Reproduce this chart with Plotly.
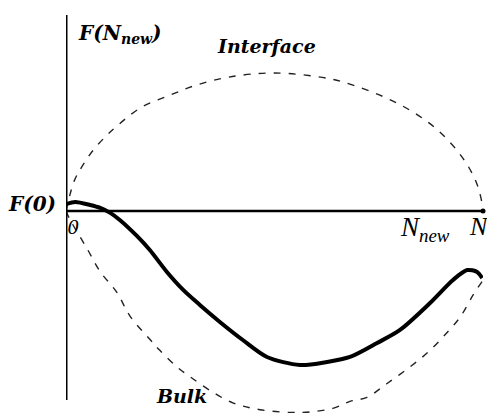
import plotly.graph_objects as go

# curvas (x: 0..N=100, y: F relativo a F(0))
interface_x = [0, 2, 4, 6.5, 9.5, 12, 18, 25, 31, 39, 50, 63, 69, 76, 82.5, 89, 95, 98.5, 100]
interface_y = [0, 22, 33, 44, 54, 61, 75, 84, 91, 97, 100, 96, 91, 83, 73, 59, 39, 20, 2]

bulk_x = [0, 1, 5, 8.2, 12.2, 15.3, 20.1, 22.5, 26.6, 29.7, 34.5, 40, 46.5, 56.1,
          64, 68.1, 72.2, 77, 82.5, 87.3, 91.4, 94.5, 97.6, 99.8]
bulk_y = [0, -6.5, -27, -44, -59, -76, -93, -101, -113, -120, -130, -139, -144, -146,
          -143, -138, -135, -125, -113, -101, -88, -77, -61, -51]

fnew_x = [0.2, 2.2, 5.8, 8.2, 10.6, 12.9, 17, 20.1, 24.2, 28.1, 32.1, 36.9, 42.4,
          48.2, 56.1, 62.6, 68.1, 74.6, 80.1, 87.3, 92.8, 96.2, 98.6, 99.8]
fnew_y = [5.1, 6.5, 4.3, 2.2, -1.4, -6.5, -18.1, -28.3, -44.2, -57.2, -68.1, -80.4,
          -93.5, -105.8, -111.6, -109.4, -105.8, -95.7, -86.2, -66.7, -50, -42.8,
          -44.2, -48.6]

fig = go.Figure()

dash = dict(color='#222', width=1.4, dash='7px,8px', shape='spline')
fig.add_trace(go.Scatter(x=interface_x, y=interface_y, mode='lines', line=dash))
fig.add_trace(go.Scatter(x=bulk_x, y=bulk_y, mode='lines', line=dash))
fig.add_trace(go.Scatter(x=fnew_x, y=fnew_y, mode='lines',
                         line=dict(color='black', width=4, shape='spline', smoothing=0.8)))
# punto al final del eje
fig.add_trace(go.Scatter(x=[100], y=[0], mode='markers',
                         marker=dict(color='black', size=5), cliponaxis=False))

# ejes
fig.add_shape(type='line', x0=0, x1=0, y0=142, y1=-137,
              line=dict(color='black', width=3))
fig.add_shape(type='line', x0=0, x1=100, y0=0, y1=0,
              line=dict(color='black', width=2.5))

fuente_b = dict(family='DejaVu Serif', size=19, color='black')
fuente = dict(family='Liberation Serif', size=27, color='black')

# texto, x, y, anclaje, desplazamiento, ancho de caja, fuente
etiquetas = [
    ('<b><i>F(N<sub>new</sub>)</i></b>', 2.4, 128, 'left', 0, None, dict(fuente_b, size=20)),
    ('<b><i>Interface</i></b>', 48.2, 119.6, 'center', 0, None, fuente_b),
    ('<b><i>F(0)</i></b>', 0, 5.1, 'right', -8, None, dict(fuente_b, size=20)),
    ('<i>0</i>', 1.7, -10.9, 'center', 0, 16, dict(fuente, size=22)),
    ('<i>N<sub>new</sub></i>', 79.6, -13, 'left', 0, 64, fuente),
    ('<i>N</i>', 99.1, -10.9, 'center', 0, 26, dict(fuente, size=26)),
    ('<b><i>Bulk</i></b>', 27.6, -134, 'center', 0, None, fuente_b),
]
for texto, x, y, anc, dx, ancho, f in etiquetas:
    fig.add_annotation(x=x, y=y, text=texto, showarrow=False, xanchor=anc,
                       xshift=dx, yanchor='middle', font=f, width=ancho,
                       align='left' if anc == 'left' else 'center')

fig.update_layout(
    width=487, height=405,
    margin=dict(l=58, r=12, t=0, b=0),
    plot_bgcolor='white', paper_bgcolor='white',
    showlegend=False,
    xaxis=dict(range=[0, 100], visible=False),
    yaxis=dict(range=[-146.4, 147.1], visible=False),
)

fig.write_html("out.html")
